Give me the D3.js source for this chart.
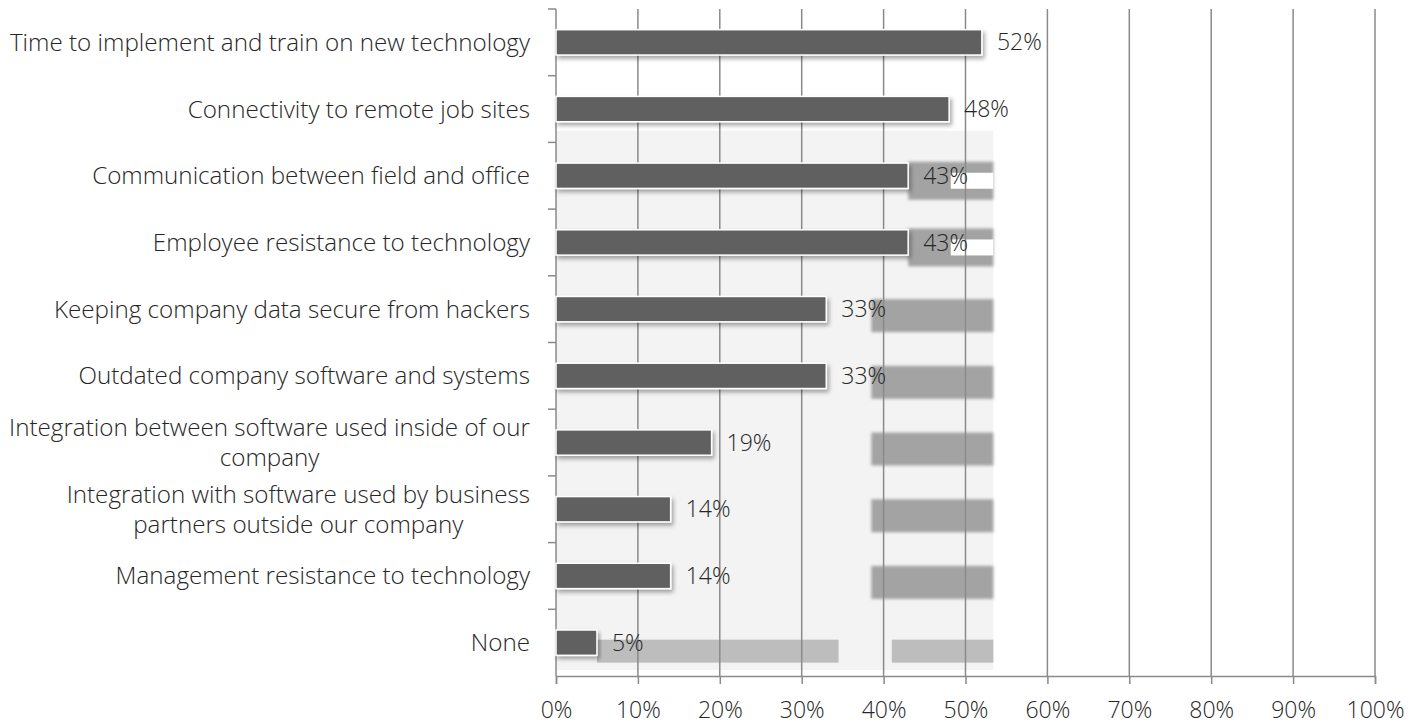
<!DOCTYPE html>
<html>
<head>
<meta charset="utf-8">
<script src="https://cdn.jsdelivr.net/npm/d3@7"></script>
<style>
  html, body { margin: 0; padding: 0; background: #fff; }
  svg { display: block; }
  text { font-family: "Open Sans", "Noto Sans", sans-serif; font-weight: 300; fill: #262626; }
</style>
</head>
<body>
<svg id="chart" width="1425" height="726"></svg>
<script>
const categories = [
  ["Time to implement and train on new technology"],
  ["Connectivity to remote job sites"],
  ["Communication between field and office"],
  ["Employee resistance to technology"],
  ["Keeping company data secure from hackers"],
  ["Outdated company software and systems"],
  ["Integration between software used inside of our", "company"],
  ["Integration with software used by business", "partners outside our company"],
  ["Management resistance to technology"],
  ["None"]
];
const values = [0.52, 0.48, 0.43, 0.43, 0.33, 0.33, 0.19, 0.14, 0.14, 0.05];
const tickValues = [0, 0.1, 0.2, 0.3, 0.4, 0.5, 0.6, 0.7, 0.8, 0.9, 1.0];

(function () {
const svg = d3.select("#chart");
const mLeft = 556, mRight = 1375, mTop = 9, mBottom = 676;
const fontSize = 23;
const catFontSize = 24.2;

const ids = categories.map((c, i) => i);
const x = d3.scaleLinear().domain([0, 1]).range([mLeft, mRight]);
const y = d3.scaleBand().domain(ids).range([mTop, mBottom]).paddingInner(0.62).paddingOuter(0.31);
const step = y.step();

const defs = svg.append("defs");
const f = defs.append("filter").attr("id", "shadow").attr("x", "-5%").attr("y", "-40%").attr("width", "115%").attr("height", "200%");
f.append("feDropShadow").attr("dx", 2).attr("dy", 3).attr("stdDeviation", 2)
  .attr("flood-color", "#000").attr("flood-opacity", 0.35);
const blur = defs.append("filter").attr("id", "soft");
blur.append("feGaussianBlur").attr("stdDeviation", 1.5);

// faint background artifact region seen in the reference
const artifacts = svg.append("g");
const bgY = y(1) + y.bandwidth() + 9;
artifacts.append("rect")
  .attr("x", x(0)).attr("y", bgY)
  .attr("width", x(0.534) - x(0))
  .attr("height", (mBottom - 6) - bgY)
  .attr("fill", "#f3f3f3");
ids.forEach(i => {
  const c = y(i) + y.bandwidth() / 2;
  if (i === 2 || i === 3) {
    artifacts.append("rect").attr("x", x(values[i])).attr("y", c - 14)
      .attr("width", x(0.534) - x(values[i])).attr("height", 38)
      .attr("fill", "#a3a3a3").attr("filter", "url(#soft)");
    artifacts.append("rect").attr("x", x(0.482)).attr("y", c - 3)
      .attr("width", x(0.534) - x(0.482)).attr("height", 16).attr("fill", "#ffffff");
  } else if (i >= 4 && i <= 8) {
    artifacts.append("rect").attr("x", x(0.385)).attr("y", c - 10)
      .attr("width", x(0.534) - x(0.385)).attr("height", 33)
      .attr("fill", "#a3a3a3").attr("filter", "url(#soft)");
  } else if (i === 9) {
    artifacts.append("rect").attr("x", x(values[i])).attr("y", c - 3)
      .attr("width", x(0.345) - x(values[i])).attr("height", 23).attr("fill", "#bdbdbd");
    artifacts.append("rect").attr("x", x(0.41)).attr("y", c - 3)
      .attr("width", x(0.534) - x(0.41)).attr("height", 23).attr("fill", "#bdbdbd");
  }
});

// gridlines
svg.append("g").selectAll("line").data(tickValues.slice(1)).join("line")
  .attr("x1", d => x(d)).attr("x2", d => x(d))
  .attr("y1", mTop).attr("y2", mBottom)
  .attr("stroke", "#8a8a8a").attr("stroke-width", 1.5);

// bottom axis
const xAxis = d3.axisBottom(x).tickValues(tickValues).tickSize(8).tickPadding(18)
  .tickFormat(d3.format(".0%"));
const gx = svg.append("g").attr("transform", `translate(0,${mBottom})`).call(xAxis);
gx.select(".domain").attr("stroke", "#8a8a8a").attr("stroke-width", 1.5);
gx.selectAll(".tick line").attr("stroke", "#8a8a8a").attr("stroke-width", 1.5);
gx.selectAll(".tick text").attr("font-size", fontSize).attr("font-family", null)
  .attr("fill", "#262626");

// left axis line + boundary ticks
const ga = svg.append("g");
ga.append("line").attr("x1", mLeft).attr("x2", mLeft).attr("y1", mTop).attr("y2", mBottom)
  .attr("stroke", "#8a8a8a").attr("stroke-width", 1.5);
const bounds = ids.map(i => y(i) - step * y.paddingInner() / 2);
ga.selectAll("line.tk").data(bounds).join("line").attr("class", "tk")
  .attr("x1", mLeft - 8).attr("x2", mLeft).attr("y1", d => d).attr("y2", d => d)
  .attr("stroke", "#8a8a8a").attr("stroke-width", 1.5);

// bars
svg.append("g").selectAll("rect").data(ids).join("rect")
  .attr("x", x(0)).attr("y", i => y(i))
  .attr("width", i => x(values[i]) - x(0))
  .attr("height", y.bandwidth())
  .attr("fill", "#606060").attr("stroke", "#ffffff").attr("stroke-width", 1.5)
  .attr("filter", "url(#shadow)");

// value labels
svg.append("g").selectAll("text").data(ids).join("text")
  .attr("x", i => x(values[i]) + 15)
  .attr("y", i => y(i) + y.bandwidth() / 2)
  .attr("dy", "0.35em")
  .attr("font-size", fontSize)
  .text(i => d3.format(".0%")(values[i]));

// category labels
const labelRight = 530;
const lineH = 30;
const cg = svg.append("g");
ids.forEach(i => {
  const lines = categories[i];
  const c = y(i) + y.bandwidth() / 2;
  const t = cg.append("text").attr("font-size", catFontSize);
  if (lines.length === 1) {
    t.attr("x", labelRight).attr("y", c).attr("dy", "0.35em").attr("text-anchor", "end").text(lines[0]);
  } else {
    t.attr("text-anchor", "middle");
    const spans = lines.map((s, k) => t.append("tspan").text(s)
      .attr("y", c + (k - (lines.length - 1) / 2) * lineH).attr("dy", "0.35em"));
    const w = d3.max(spans.map(sp => sp.node().getComputedTextLength()));
    spans.forEach(sp => sp.attr("x", labelRight - w / 2));
  }
});
})();
</script>
</body>
</html>
